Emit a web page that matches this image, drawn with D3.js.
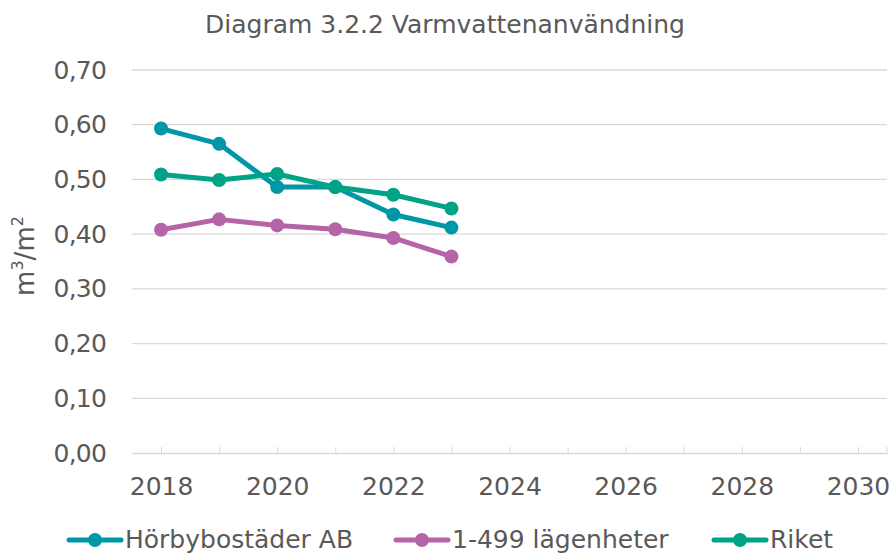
<!DOCTYPE html>
<html>
<head>
<meta charset="utf-8">
<script src="https://cdn.jsdelivr.net/npm/d3@7"></script>
<style>
  body { margin: 0; background: #fff; }
  svg { font-family: "DejaVu Sans", Verdana, sans-serif; }
</style>
</head>
<body>
<svg id="chart" width="892" height="554"></svg>
<script>
const years = [2018, 2019, 2020, 2021, 2022, 2023];
const axisYears = d3.range(2018, 2031);
const yTicks = [0, 0.1, 0.2, 0.3, 0.4, 0.5, 0.6, 0.7];
const horby = [0.593, 0.565, 0.486, 0.486, 0.436, 0.412];
const small = [0.408, 0.427, 0.416, 0.409, 0.393, 0.359];
const riket = [0.509, 0.499, 0.510, 0.486, 0.472, 0.447];
const seriesNames = ['Hörbybostäder AB', '1-499 lägenheter', 'Riket'];
const seriesColors = ['#0097a7', '#b565a7', '#00a385'];

const series = [horby, small, riket].map((vals, i) => ({
  name: seriesNames[i], color: seriesColors[i],
  values: vals.map((v, j) => ({year: years[j], v}))
}));

const svg = d3.select('#chart');
const margin = {left: 132, right: 5, top: 70, bottom: 101};
const w = 892 - margin.left - margin.right;
const h = 554 - margin.top - margin.bottom;

const x = d3.scaleLinear().domain([2017.5, 2030.5]).range([0, w]);
const y = d3.scaleLinear().domain([0, 0.7]).range([h, 0]);
const fmt = d => d3.format('.2f')(d).replace('.', ',');
const textCol = '#595959';
const font = '"DejaVu Sans", Verdana, sans-serif';

svg.append('text')
  .attr('x', 445).attr('y', 33)
  .attr('text-anchor', 'middle')
  .attr('font-size', 25).attr('fill', textCol)
  .text('Diagram 3.2.2 Varmvattenanvändning');

const g = svg.append('g').attr('transform', `translate(${margin.left},${margin.top})`);

// gridlines
g.append('g').selectAll('line').data(yTicks.slice(1)).enter().append('line')
  .attr('x1', 0).attr('x2', w)
  .attr('y1', d => y(d)).attr('y2', d => y(d))
  .attr('stroke', '#d9d9d9').attr('stroke-width', 1.3);

// y axis labels
const yAxis = g.append('g')
  .call(d3.axisLeft(y).tickValues(yTicks).tickFormat(fmt).tickSize(0).tickPadding(26));
yAxis.select('.domain').remove();
yAxis.selectAll('text').attr('font-size', 25).attr('fill', textCol)
  .attr('letter-spacing', -0.8).attr('font-family', font);

// x axis
const xAxis = g.append('g').attr('transform', `translate(0,${h})`)
  .call(d3.axisBottom(x).tickValues(axisYears).tickFormat(d => d % 2 === 0 ? d : '')
    .tickSizeInner(-6).tickSizeOuter(0).tickPadding(24));
xAxis.select('.domain').attr('stroke', '#d9d9d9').attr('stroke-width', 1.5);
xAxis.selectAll('.tick line').attr('stroke', '#d9d9d9');
xAxis.selectAll('text').attr('font-size', 25).attr('fill', textCol)
  .attr('font-family', font);
xAxis.append('line').attr('x1', w).attr('x2', w).attr('y1', 0).attr('y2', -6).attr('stroke', '#d9d9d9');

// y axis title
svg.append('text')
  .attr('transform', 'translate(34,256) rotate(-90)')
  .attr('text-anchor', 'middle')
  .attr('font-size', 26).attr('fill', textCol)
  .html('m<tspan dy="-11" font-size="16">3</tspan><tspan dy="11">/m</tspan><tspan dy="-11" font-size="16">2</tspan>');

// lines
const line = d3.line().x(d => x(d.year)).y(d => y(d.v));
const sg = g.selectAll('.series').data(series).enter().append('g').attr('class', 'series');
sg.append('path')
  .attr('d', d => line(d.values))
  .attr('fill', 'none').attr('stroke', d => d.color)
  .attr('stroke-width', 5).attr('stroke-linejoin', 'round').attr('stroke-linecap', 'round');
sg.selectAll('circle').data(d => d.values.map(p => ({...p, color: d.color}))).enter().append('circle')
  .attr('cx', d => x(d.year)).attr('cy', d => y(d.v)).attr('r', 7)
  .attr('fill', d => d.color);

// legend
const legendX = [69, 396, 714];
const lg = svg.append('g').selectAll('g').data(series).enter().append('g')
  .attr('transform', (d, i) => `translate(${legendX[i]},540)`);
lg.append('line').attr('x1', 0).attr('x2', 52)
  .attr('stroke', d => d.color).attr('stroke-width', 5).attr('stroke-linecap', 'round');
lg.append('circle').attr('cx', 26).attr('r', 7).attr('fill', d => d.color);
lg.append('text').attr('x', 56).attr('y', 8)
  .attr('font-size', 25).attr('fill', textCol)
  .text(d => d.name);
</script>
</body>
</html>
